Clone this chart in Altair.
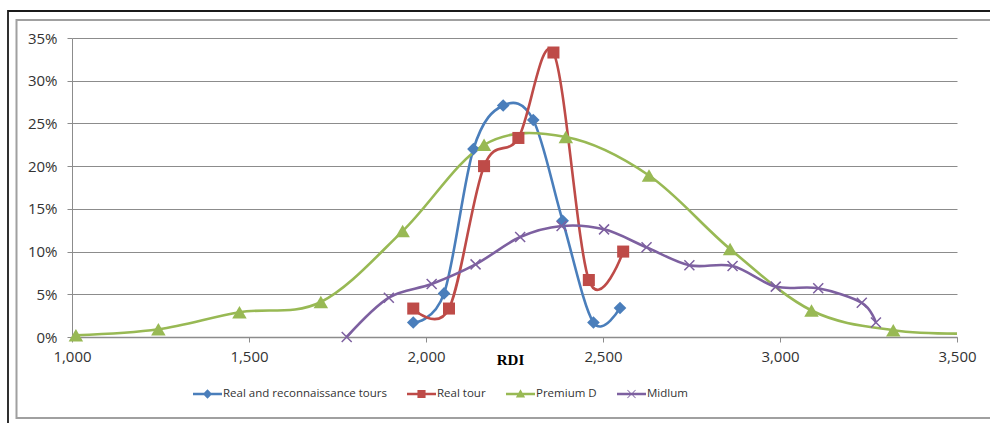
import altair as alt
import pandas as pd

# ---- series data (RDI on x, share of vehicles on y) ----
series_names = ["Real and reconnaissance tours", "Real tour", "Premium D", "Midlum"]
series_colors = ["#4A7EBB", "#BE4B48", "#98B954", "#7D60A0"]

rrt_x = [1964, 2051, 2134, 2218, 2303, 2386, 2473, 2548]
rrt_y = [0.017, 0.051, 0.220, 0.271, 0.254, 0.136, 0.017, 0.034]

real_x = [1964, 2065, 2164, 2261, 2360, 2460, 2557]
real_y = [0.0333, 0.0333, 0.200, 0.233, 0.333, 0.0667, 0.100]

premium_x = [1011, 1244, 1473, 1703, 1934, 2164, 2395, 2630, 2859, 3089, 3320, 3550]
premium_y = [0.002, 0.009, 0.029, 0.041, 0.124, 0.225, 0.234, 0.189, 0.103, 0.031, 0.008, 0.004]

midlum_x = [1776, 1895, 2016, 2140, 2266, 2383, 2503, 2623, 2744, 2866, 2988, 3108, 3231, 3271]
midlum_y = [0.000, 0.046, 0.062, 0.085, 0.117, 0.130, 0.126, 0.105, 0.084, 0.083, 0.059, 0.057, 0.040, 0.017]

x_ticks = [1000, 1500, 2000, 2500, 3000, 3500]
y_ticks = [0, 0.05, 0.10, 0.15, 0.20, 0.25, 0.30, 0.35]

GRID = "#8C8C8C"
TEXT = "#333333"
FONT = "Open Sans"

x_scale = alt.Scale(domain=[1000, 3500], nice=False, zero=False)
y_scale = alt.Scale(domain=[0, 0.35], nice=False)

x_axis = alt.Axis(
    values=x_ticks, format=",.0f", grid=False, labelFlush=False,
    domainColor=GRID, domainWidth=1.5, tickColor=GRID, tickSize=5,
    labelFont=FONT, labelFontSize=15, labelColor=TEXT, labelPadding=7,
    title="RDI", titleFont="Liberation Serif", titleFontWeight="bold",
    titleFontSize=15, titleColor="#000000", titleX=438, titleY=22,
    titleAlign="center", titleBaseline="middle",
)
y_axis = alt.Axis(
    values=y_ticks, format=".0%", grid=True, gridColor=GRID, gridWidth=1,
    labelFlush=False,
    domainColor=GRID, domainWidth=1, tickColor=GRID, tickSize=5,
    labelFont=FONT, labelFontSize=15, labelColor=TEXT, labelPadding=10,
    title=None,
)

# marker shapes used on the plot
markers = [
    dict(shape="diamond", size=160, filled=True),
    dict(shape="square", size=145, filled=True),
    dict(shape="triangle-up", size=210, filled=True),
    dict(shape="M-1,-1L1,1M-1,1L1,-1", size=100, filled=False, strokeWidth=1.5),
]

# legend glyphs: a short line segment with the series marker in the middle
LINE = "M-1,-0.09L1,-0.09L1,0.09L-1,0.09Z"
legend_shapes = [
    LINE + " M0,-0.32L0.32,0L0,0.32L-0.32,0Z",
    LINE + " M-0.28,-0.28L0.28,-0.28L0.28,0.28L-0.28,0.28Z",
    LINE + " M0,-0.32L0.32,0.24L-0.32,0.24Z",
    LINE + " M-0.3,-0.26L-0.26,-0.3L0.3,0.26L0.26,0.3Z M0.26,-0.3L0.3,-0.26L-0.26,0.3L-0.3,0.26Z",
]

xs = [rrt_x, real_x, premium_x, midlum_x]
ys = [rrt_y, real_y, premium_y, midlum_y]

layers = []

# frame around the chart: outer dark edge and inner grey border, both running
# off the right side of the canvas
frame_df = pd.DataFrame({"k": [0]})
layers.append(
    alt.Chart(frame_df).mark_rect(fill=None, stroke="#1a1a1a", strokeWidth=1.8).encode(
        x=alt.value(-64), x2=alt.value(1000), y=alt.value(-27), y2=alt.value(500)
    )
)
layers.append(
    alt.Chart(frame_df).mark_rect(fill=None, stroke="#A0A0A0", strokeWidth=2).encode(
        x=alt.value(-55.5), x2=alt.value(1000), y=alt.value(-18), y2=alt.value(380)
    )
)

# smoothed lines
for name, color, sx, sy in zip(series_names, series_colors, xs, ys):
    df = pd.DataFrame({"RDI": sx, "share": sy, "series": name})
    layers.append(
        alt.Chart(df).mark_line(
            color=color, strokeWidth=2.6, interpolate="cardinal", tension=0, clip=True
        ).encode(
            x=alt.X("RDI:Q", scale=x_scale, axis=x_axis),
            y=alt.Y("share:Q", scale=y_scale, axis=y_axis),
        )
    )

# markers (the last Premium D value lies beyond the axis and is only used by the curve)
for name, color, sx, sy, mk in zip(series_names, series_colors, xs, ys, markers):
    df = pd.DataFrame({"RDI": sx, "share": sy, "series": name})
    df = df[df["RDI"] <= 3500]
    props = dict(mk)
    props["color"] = color
    props["opacity"] = 1
    if props.get("filled"):
        props["strokeWidth"] = 0
    layers.append(
        alt.Chart(df).mark_point(**props).encode(
            x=alt.X("RDI:Q", scale=x_scale, axis=x_axis),
            y=alt.Y("share:Q", scale=y_scale, axis=y_axis),
        )
    )

# legend layer (no rows drawn; only feeds the legend)
legend_df = pd.DataFrame({"series": series_names})
legend_cfg = dict(
    orient="none", direction="horizontal", columns=4,
    legendX=121, legendY=341.5, title=None, padding=0,
    symbolSize=841, symbolStrokeWidth=0, symbolOpacity=1,
    labelFont=FONT, labelFontSize=11.5, labelColor=TEXT,
    labelOffset=1, columnPadding=20, labelLimit=400,
)
layers.append(
    alt.Chart(legend_df).mark_point(filled=True, opacity=1, strokeWidth=0, size=841)
    .transform_filter("false")
    .encode(
        color=alt.Color(
            "series:N",
            scale=alt.Scale(domain=series_names, range=series_colors),
            legend=alt.Legend(**legend_cfg),
        ),
        shape=alt.Shape(
            "series:N",
            scale=alt.Scale(domain=series_names, range=legend_shapes),
            legend=alt.Legend(**legend_cfg),
        ),
    )
)

chart = alt.layer(*layers).properties(
    width=885,
    height=299,
    autosize=alt.AutoSizeParams(type="none"),
    padding={"left": 72, "top": 38, "right": 33, "bottom": 86},
    background="white",
).configure_view(stroke=None)

chart.save("out.html", embed_options={"renderer": "svg", "actions": False})
